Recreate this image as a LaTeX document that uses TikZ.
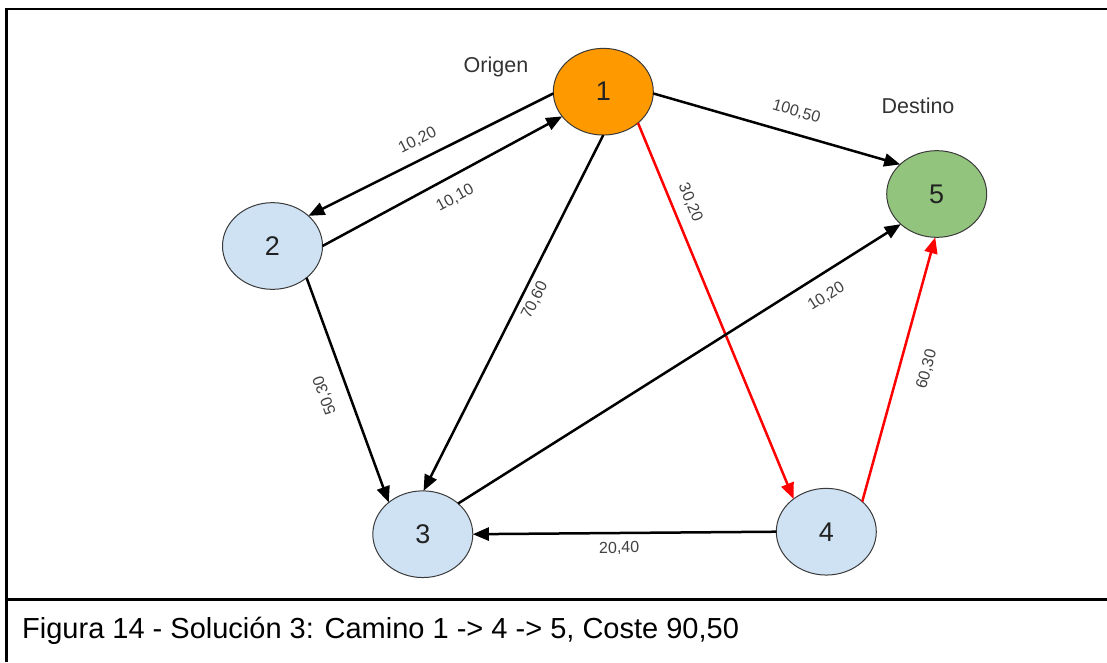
\documentclass[tikz,border=0pt]{standalone}
\usepackage{fontspec}
\setmainfont{Liberation Sans}
\usetikzlibrary{shapes.geometric,arrows.meta}

\definecolor{origfill}{HTML}{FF9900}
\definecolor{destfill}{HTML}{93C47D}
\definecolor{plainfill}{HTML}{CFE2F3}
\definecolor{nodeborder}{HTML}{3A3A3A}
\definecolor{numtext}{HTML}{222222}
\definecolor{lbltext}{HTML}{404040}
\definecolor{pathred}{HTML}{FF0000}

\tikzset{
  vertex/.style={ellipse, draw=nodeborder, line width=1pt,
    minimum width=100pt, minimum height=86.7pt, inner sep=0pt, outer sep=0pt,
    font=\fontsize{27}{30}\selectfont, text=numtext},
  tip/.style={Triangle[length=16pt,width=13pt]},
  edge/.style={line width=2.5pt, draw=black, -{Triangle[length=16pt,width=13pt]}},
  redge/.style={edge, draw=pathred, fill=pathred},
  lbl/.style={font=\fontsize{16}{18}\selectfont, text=lbltext,
    inner sep=0pt, sloped},
  tag/.style={font=\fontsize{21.5}{24}\selectfont, text=black!80, inner sep=0pt},
  frame/.style={line width=2.5pt, draw=black}
}

\begin{document}
\begin{tikzpicture}[x=1pt,y=-1pt]
\useasboundingbox (0,0) rectangle (1107,662);

% outer frame and caption separator
\draw[frame] (1107,9) -- (6.5,9) -- (6.5,662);
\draw[frame] (6.5,599.5) -- (1107,599.5);

% graph vertices
\node[vertex, fill=origfill]  (n1) at (603.3,91.7)  {1};
\node[vertex, fill=plainfill] (n2) at (272.5,246)   {2};
\node[vertex, fill=plainfill] (n3) at (422.8,534.2) {3};
\node[vertex, fill=plainfill] (n4) at (826.3,531.7) {4};
\node[vertex, fill=destfill]  (n5) at (936.7,194)   {5};

% role tags
\node[tag, anchor=base] (orig) at (496,72)  {Origen};
\node[tag, anchor=base] (dest) at (918,113) {Destino};

% weighted arcs
\draw[edge] (n1.182) -- node[lbl, pos=0.521, above=10.5pt] {10,20} (n2.40);
\draw[edge] (n2.0)   -- node[lbl, pos=0.512, below=13pt]   {10,10} (n1.211);
\draw[edge] (n1.358) -- node[lbl, pos=0.555, above=14pt]   {100,50} (n5.141);
\draw[edge] (n1.270) -- node[lbl, pos=0.447, below=5.3pt]  {70,60} (n3.89);
\draw[redge] (n1.318) -- node[lbl, pos=0.23, above=10pt]   {30,20} (n4.135);
\draw[edge, {Triangle[length=16pt,width=13pt]}-] (n3.137) --
  node[lbl, allow upside down, pos=0.511, above=15.3pt] {50,30} (n2.317);
\draw[edge] (n3.41)  -- node[lbl, pos=0.806, below=13.5pt] {10,20} (n5.220);
\draw[edge] (n4.180) -- node[lbl, pos=0.518, below=7.5pt]  {20,40} (n3.0);
\draw[redge] (n4.40) -- node[lbl, pos=0.528, below=19.2pt] {60,30} (n5.268);

% caption
\node[anchor=base west, inner sep=0pt, font=\fontsize{29}{32}\selectfont]
  (cap) at (22,638) {Figura 14 - Solución 3: Camino 1 -> 4 -> 5, Coste 90,50};
\end{tikzpicture}
\end{document}
